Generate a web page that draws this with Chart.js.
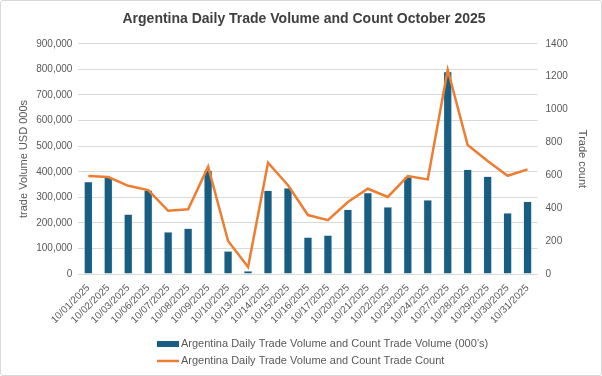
<!DOCTYPE html>
<html>
<head>
<meta charset="utf-8">
<script src="https://cdn.jsdelivr.net/npm/chart.js@4"></script>
<style>
  html, body { margin: 0; padding: 0; background: #fff; }
  #wrap { position: relative; width: 600px; height: 374px; border: 1px solid #d9d9d9; border-radius: 3px; }
  canvas { display: block; }
</style>
</head>
<body>
<div id="wrap"><canvas id="chart" width="600" height="374"></canvas></div>
<script>
const dates = ['10/01/2025', '10/02/2025', '10/03/2025', '10/06/2025', '10/07/2025', '10/08/2025',
    '10/09/2025', '10/10/2025', '10/13/2025', '10/14/2025', '10/15/2025', '10/16/2025',
    '10/17/2025', '10/20/2025', '10/21/2025', '10/22/2025', '10/23/2025', '10/24/2025',
    '10/27/2025', '10/28/2025', '10/29/2025', '10/30/2025', '10/31/2025'];

// trade volume, USD 000s
const tradeVolume = [361000, 378000, 234000, 328000, 165000, 179000, 405000, 90000, 13000, 327000,
    337000, 144000, 152000, 253000, 318000, 263000, 380000, 290000, 791000, 409000,
    382000, 239000, 284000];

// number of trades
const tradeCount = [596, 590, 537, 511, 385, 394, 653, 201, 43, 677, 540, 359, 328, 438, 519,
    469, 596, 576, 1242, 785, 688, 598, 637];

const volumeLabel = 'Argentina Daily Trade Volume and Count Trade Volume (000\u2019s)';
const countLabel = 'Argentina Daily Trade Volume and Count Trade Count';

const FONT = "'Liberation Sans Narrow', 'Liberation Sans', sans-serif";
const GREY = '#595959';

// legend stacked in two left-aligned rows under the chart
const bottomLegend = {
    id: 'bottomLegend',
    afterDraw(chart) {
        const ctx = chart.ctx;
        const x0 = 156;
        const rows = [343, 360];
        ctx.save();
        ctx.font = '11px ' + FONT;
        ctx.textBaseline = 'middle';
        chart.data.datasets.forEach((ds, i) => {
            const y = rows[i];
            if (ds.type === 'bar') {
                ctx.fillStyle = ds.backgroundColor;
                ctx.fillRect(x0, y - 3, 22, 6);
            } else {
                ctx.strokeStyle = ds.borderColor;
                ctx.lineWidth = 2.5;
                ctx.beginPath();
                ctx.moveTo(x0, y);
                ctx.lineTo(x0 + 22, y);
                ctx.stroke();
            }
            ctx.fillStyle = GREY;
            ctx.fillText(ds.label, x0 + 24, y);
        });
        ctx.restore();
    }
};

new Chart(document.getElementById('chart'), {
    data: {
        labels: dates,
        datasets: [
            {
                type: 'bar',
                label: volumeLabel,
                data: tradeVolume,
                yAxisID: 'y',
                backgroundColor: '#175e82',
                borderColor: '#c9dbe6',
                borderWidth: 0.6,
                barPercentage: 0.42,
                categoryPercentage: 1,
                order: 1
            },
            {
                type: 'line',
                label: countLabel,
                data: tradeCount,
                yAxisID: 'y1',
                borderColor: '#ed7d31',
                backgroundColor: '#ed7d31',
                borderWidth: 2.5,
                pointRadius: 0,
                tension: 0,
                order: 0
            }
        ]
    },
    options: {
        responsive: false,
        animation: false,
        layout: { padding: { top: 6, left: 8, right: 2, bottom: 49 } },
        plugins: {
            legend: { display: false },
            tooltip: { enabled: false },
            title: {
                display: true,
                text: 'Argentina Daily Trade Volume and Count October 2025',
                color: '#404040',
                font: { family: FONT, size: 14, weight: 'bold' },
                padding: { top: 4, bottom: 16 }
            }
        },
        scales: {
            x: {
                grid: { display: false },
                border: { color: '#d9d9d9' },
                ticks: {
                    color: GREY,
                    font: { family: FONT, size: 10 },
                    maxRotation: 45,
                    minRotation: 45,
                    autoSkip: false,
                    padding: 0
                }
            },
            y: {
                position: 'left',
                min: 0,
                max: 900000,
                grid: { color: '#d9d9d9', drawTicks: false },
                border: { display: false },
                ticks: {
                    stepSize: 100000,
                    color: GREY,
                    padding: 6,
                    font: { family: FONT, size: 10 },
                    callback: v => v.toLocaleString('en-US')
                },
                title: {
                    display: true,
                    text: 'trade Volume USD 000s',
                    color: GREY,
                    font: { family: FONT, size: 11 },
                    padding: { top: 8, bottom: 0 }
                }
            },
            y1: {
                position: 'right',
                min: 0,
                max: 1400,
                grid: { display: false, drawTicks: false },
                border: { display: false },
                ticks: {
                    stepSize: 200,
                    color: GREY,
                    padding: 8,
                    font: { family: FONT, size: 10 },
                    callback: v => String(v)
                },
                title: {
                    display: true,
                    text: 'Trade count',
                    color: GREY,
                    font: { family: FONT, size: 11 },
                    padding: { top: 10, bottom: 0 }
                }
            }
        }
    },
    plugins: [bottomLegend]
});
</script>
</body>
</html>
